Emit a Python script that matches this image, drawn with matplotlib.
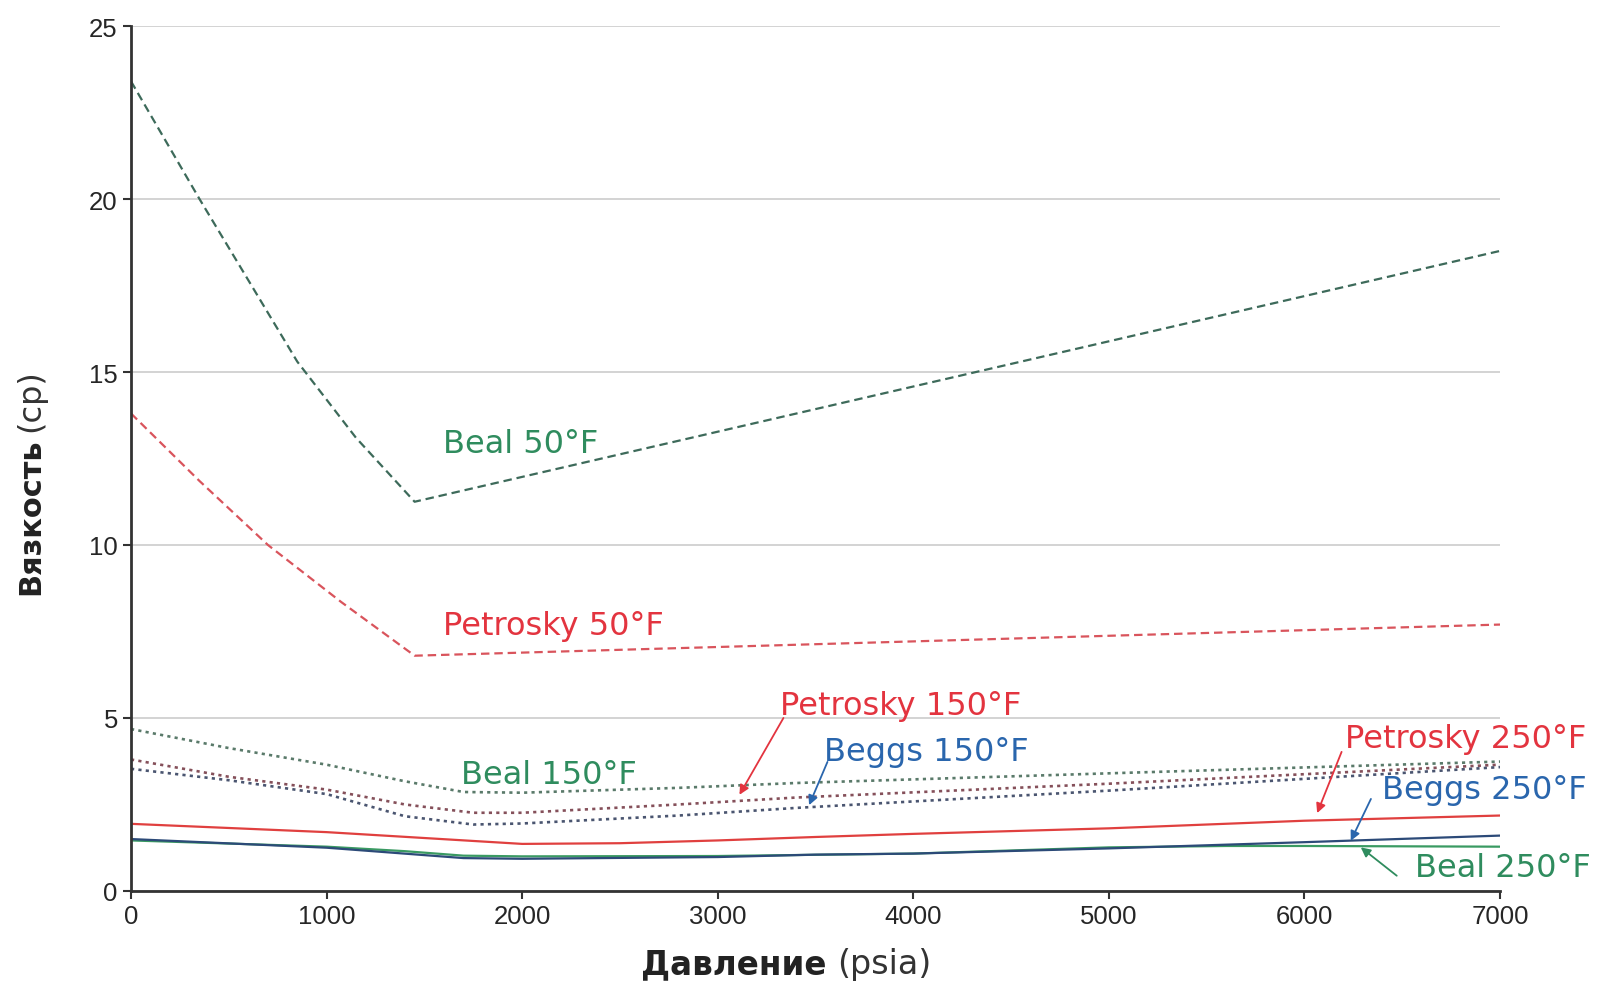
import matplotlib
matplotlib.use("Agg")
import matplotlib.pyplot as plt

plt.rcParams["font.family"] = ["Liberation Sans", "DejaVu Sans"]

# давление (psia) и вязкость (cp) для каждой корреляции
p_beal50 = [0, 350, 850, 1150, 1450, 7000]
mu_beal50 = [23.4, 20.0, 15.3, 13.1, 11.25, 18.5]

p_pet50 = [0, 350, 700, 1075, 1450, 7000]
mu_pet50 = [13.8, 11.85, 10.0, 8.35, 6.8, 7.7]

p_beal150 = [0, 500, 1000, 1400, 1700, 2000, 2800, 3400, 5000, 7000]
mu_beal150 = [4.68, 4.13, 3.65, 3.17, 2.86, 2.84, 2.98, 3.12, 3.4, 3.74]

p_pet150 = [0, 500, 1000, 1400, 1750, 2000, 2800, 3400, 5000, 7000]
mu_pet150 = [3.8, 3.3, 2.93, 2.5, 2.26, 2.26, 2.5, 2.7, 3.1, 3.65]

p_beggs150 = [0, 500, 1000, 1400, 1750, 2000, 2800, 3400, 5000, 7000]
mu_beggs150 = [3.53, 3.2, 2.8, 2.16, 1.92, 1.95, 2.18, 2.4, 2.9, 3.58]

p_pet250 = [0, 1000, 2000, 2500, 3000, 3500, 4000, 5000, 6000, 7000]
mu_pet250 = [1.94, 1.7, 1.36, 1.38, 1.46, 1.56, 1.65, 1.81, 2.03, 2.18]

p_beggs250 = [0, 1000, 1700, 2000, 3000, 3500, 4000, 5000, 6000, 7000]
mu_beggs250 = [1.5, 1.25, 0.95, 0.93, 0.98, 1.05, 1.08, 1.23, 1.41, 1.6]

p_beal250 = [0, 1000, 1400, 1700, 2000, 3000, 4000, 5000, 5600, 6000, 7000]
mu_beal250 = [1.46, 1.28, 1.15, 1.02, 1.0, 1.01, 1.08, 1.26, 1.3, 1.3, 1.28]

GREEN = "#2f8c5e"
RED = "#e3343f"
BLUE = "#2a66ad"

fig = plt.figure(figsize=(16.06, 9.87), dpi=100)
ax = fig.add_axes([0.0816, 0.0963, 0.8524, 0.8763])

dash = (0, (3.8, 2.2))
dot = (0, (1.2, 1.6))
ax.plot(p_beal50, mu_beal50, color="#3d6a5a", lw=1.6, ls=dash)
ax.plot(p_pet50, mu_pet50, color="#d9545c", lw=1.6, ls=dash)
ax.plot(p_beal150, mu_beal150, color="#5a7a6a", lw=1.9, ls=dot)
ax.plot(p_pet150, mu_pet150, color="#85505a", lw=1.9, ls=dot)
ax.plot(p_beggs150, mu_beggs150, color="#4a5570", lw=1.9, ls=dot)
ax.plot(p_pet250, mu_pet250, color="#e0403f", lw=1.6)
ax.plot(p_beal250, mu_beal250, color="#3a9a62", lw=1.6)
ax.plot(p_beggs250, mu_beggs250, color="#2c4a78", lw=1.6)

ax.set_xlim(0, 7000)
ax.set_ylim(0, 25)
ax.set_xticks(range(0, 7001, 1000))
ax.set_yticks(range(0, 26, 5))
ax.yaxis.grid(True, color="#d0d0d0", lw=1.3)
ax.set_axisbelow(True)
for s in ("top", "right"):
    ax.spines[s].set_visible(False)
for s in ("left", "bottom"):
    ax.spines[s].set_color("#333333")
    ax.spines[s].set_linewidth(2)
ax.tick_params(labelsize=18.5, length=6, width=1.5, color="#333333", labelcolor="#262626")

# подписи кривых
fs = 23
lab = dict(fontsize=fs, va="center", family="DejaVu Sans", clip_on=False)
ax.text(1595, 12.92, "Beal 50°F", color=GREEN, **lab)
ax.text(1595, 7.66, "Petrosky 50°F", color=RED, **lab)
ax.text(1685, 3.37, "Beal 150°F", color=GREEN, **lab)

arrows = [
    ("Petrosky 150°F", RED, (3320, 5.36), (3336, 5.0), (3111, 2.78)),
    ("Beggs 150°F", BLUE, (3545, 4.02), (3561, 3.73), (3467, 2.48)),
    ("Petrosky 250°F", RED, (6206, 4.41), (6190, 4.02), (6065, 2.25)),
    ("Beggs 250°F", BLUE, (6399, 2.93), (6340, 2.66), (6237, 1.45)),
    ("Beal 250°F", GREEN, (6567, 0.68), (6472, 0.44), (6288, 1.26)),
]
for label, c, txy, tail, tip in arrows:
    ax.text(*txy, label, color=c, **lab)
    ax.annotate("", xy=tip, xytext=tail, annotation_clip=False,
                arrowprops=dict(arrowstyle="-|>", color=c, lw=1.3,
                                mutation_scale=14, shrinkA=0, shrinkB=0))

# подписи осей: жирная часть + единицы
yl = fig.text(0.019, 0.397, "Вязкость", fontsize=22, fontweight="bold", family="DejaVu Sans",
              rotation=90, ha="center", va="bottom", color="#222222")
ax.annotate("(cp)", xy=(0.5, 1), xycoords=yl, xytext=(0, 5), textcoords="offset points",
            rotation=90, ha="center", va="bottom", fontsize=23, family="DejaVu Sans",
            color="#333333")
xl = fig.text(0.399, 0.013, "Давление", fontsize=23.5, fontweight="bold", family="DejaVu Sans",
              ha="left", va="baseline", color="#222222")
ax.annotate("(psia)", xy=(1, 0), xycoords=xl, xytext=(8, 0), textcoords="offset points",
            ha="left", va="bottom", fontsize=24, family="DejaVu Sans", color="#333333")

fig.savefig("out.png", dpi=100)
